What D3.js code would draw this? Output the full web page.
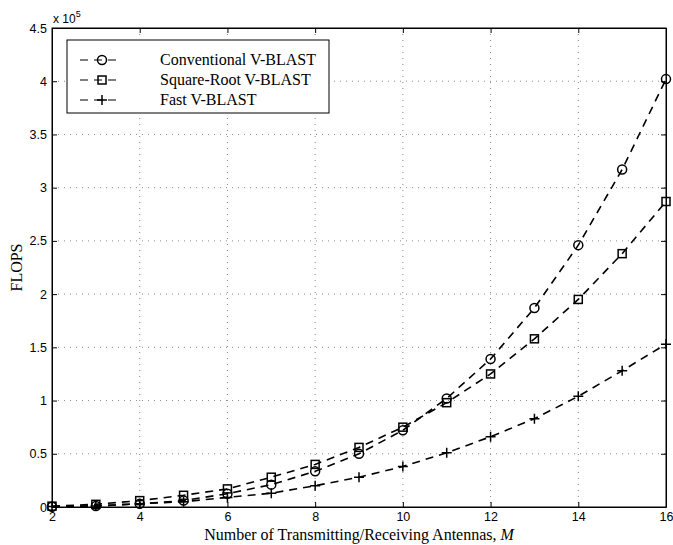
<!DOCTYPE html>
<html>
<head>
<meta charset="utf-8">
<script src="https://cdn.jsdelivr.net/npm/d3@7"></script>
<style>
  body { margin: 0; background: #fff; }
  svg { display: block; }
</style>
</head>
<body>
<div id="chart"></div>
<script>
// donnees (en unites de 1e5 FLOPS)
const antennas = [2, 3, 4, 5, 6, 7, 8, 9, 10, 11, 12, 13, 14, 15, 16];
const conventional = [0.003, 0.01, 0.03, 0.06, 0.125, 0.21, 0.335, 0.5, 0.72, 1.02, 1.39, 1.87, 2.46, 3.17, 4.02];
const squareRoot = [0.008, 0.025, 0.06, 0.11, 0.17, 0.28, 0.40, 0.56, 0.75, 0.98, 1.25, 1.58, 1.95, 2.38, 2.87];
const fast = [0.004, 0.01, 0.03, 0.05, 0.09, 0.13, 0.20, 0.28, 0.38, 0.51, 0.66, 0.83, 1.04, 1.28, 1.53];
const xTicks = [2, 4, 6, 8, 10, 12, 14, 16];
const yTicks = [0, 0.5, 1, 1.5, 2, 2.5, 3, 3.5, 4, 4.5];
const seriesNames = ["Conventional V-BLAST", "Square-Root V-BLAST", "Fast V-BLAST"];

const svgWidth = 673, svgHeight = 545;
const margin = { top: 28, right: 7, bottom: 38, left: 52 };
const width = svgWidth - margin.left - margin.right;
const height = svgHeight - margin.top - margin.bottom;

const svg = d3.select("#chart").append("svg")
    .attr("width", svgWidth)
    .attr("height", svgHeight);

const g = svg.append("g")
    .attr("transform", `translate(${margin.left},${margin.top})`);

const x = d3.scaleLinear().domain([2, 16]).range([0, width]);
const y = d3.scaleLinear().domain([0, 4.5]).range([height, 0]);

// grille pointillee
g.append("g").selectAll("line")
    .data(xTicks.slice(1, -1))
    .enter().append("line")
    .attr("x1", d => x(d)).attr("x2", d => x(d))
    .attr("y1", 0).attr("y2", height)
    .attr("stroke", "#888").attr("stroke-width", 1)
    .attr("stroke-dasharray", "1,5");

g.append("g").selectAll("line")
    .data(yTicks.slice(1, -1))
    .enter().append("line")
    .attr("x1", 0).attr("x2", width)
    .attr("y1", d => y(d)).attr("y2", d => y(d))
    .attr("stroke", "#888").attr("stroke-width", 1)
    .attr("stroke-dasharray", "1,5");

// axes (ticks vers l'interieur, style MATLAB)
const fmtY = d => d === 0 ? "0" : String(d);
g.append("g")
    .attr("transform", `translate(0,${height})`)
    .call(d3.axisBottom(x).tickValues(xTicks).tickSizeInner(-5).tickSizeOuter(0).tickPadding(5));
g.append("g")
    .call(d3.axisLeft(y).tickValues(yTicks).tickFormat(fmtY).tickSizeInner(-5).tickSizeOuter(0).tickPadding(5));
g.append("g")
    .call(d3.axisTop(x).tickValues(xTicks).tickFormat("").tickSizeInner(-5).tickSizeOuter(0));
g.append("g")
    .attr("transform", `translate(${width},0)`)
    .call(d3.axisRight(y).tickValues(yTicks).tickFormat("").tickSizeInner(-5).tickSizeOuter(0));

svg.selectAll(".tick text")
    .attr("font-family", "Liberation Sans, Arial, sans-serif")
    .attr("font-size", 12.5)
    .attr("fill", "#000");
svg.selectAll(".domain").attr("stroke", "#000").attr("stroke-width", 1);
svg.selectAll(".tick line").attr("stroke", "#000");

// cadre
g.append("rect")
    .attr("width", width).attr("height", height)
    .attr("fill", "none").attr("stroke", "#000").attr("stroke-width", 1);

// x 10^5
const expo = g.append("text")
    .attr("x", 1).attr("y", -5)
    .attr("font-family", "Liberation Sans, Arial, sans-serif")
    .attr("font-size", 12);
expo.append("tspan").text("x 10");
expo.append("tspan").attr("font-size", 9).attr("dy", -6).text("5");

// courbes
const line = d3.line()
    .x((d, i) => x(antennas[i]))
    .y(d => y(d));

const allSeries = [conventional, squareRoot, fast];
const markers = ["circle", "square", "plus"];

function drawMarker(sel, type, cx, cy) {
    if (type === "circle") {
        sel.append("circle").attr("cx", cx).attr("cy", cy).attr("r", 4.5)
            .attr("fill", "none").attr("stroke", "#000").attr("stroke-width", 1.5);
    } else if (type === "square") {
        sel.append("rect").attr("x", cx - 4).attr("y", cy - 4).attr("width", 8).attr("height", 8)
            .attr("fill", "none").attr("stroke", "#000").attr("stroke-width", 1.5);
    } else {
        sel.append("path").attr("d", `M${cx - 5},${cy}H${cx + 5}M${cx},${cy - 5}V${cy + 5}`)
            .attr("stroke", "#000").attr("stroke-width", 1.5);
    }
}

allSeries.forEach((vals, k) => {
    g.append("path")
        .datum(vals)
        .attr("fill", "none")
        .attr("stroke", "#000")
        .attr("stroke-width", 1.6)
        .attr("stroke-dasharray", "8,6")
        .attr("d", line);
    const mg = g.append("g");
    vals.forEach((v, i) => drawMarker(mg, markers[k], x(antennas[i]), y(v)));
});

// legende
const legend = g.append("g").attr("transform", "translate(15,12)");
legend.append("rect")
    .attr("width", 262).attr("height", 73)
    .attr("fill", "#fff").attr("stroke", "#000").attr("stroke-width", 1);
seriesNames.forEach((name, k) => {
    const ly = 20 + k * 20;
    legend.append("line")
        .attr("x1", 13).attr("x2", 55).attr("y1", ly).attr("y2", ly)
        .attr("stroke", "#000").attr("stroke-width", 1.2)
        .attr("stroke-dasharray", "8,6");
    drawMarker(legend, markers[k], 35, ly);
    legend.append("text")
        .attr("x", 93).attr("y", ly + 5)
        .attr("font-family", "Liberation Serif, Times New Roman, serif")
        .attr("font-size", 16)
        .text(name);
});

// titres des axes
svg.append("text")
    .attr("x", margin.left + width / 2)
    .attr("y", svgHeight - 5)
    .attr("text-anchor", "middle")
    .attr("font-family", "Liberation Serif, Times New Roman, serif")
    .attr("font-size", 16)
    .html("Number of Transmitting/Receiving Antennas, <tspan font-style='italic'>M</tspan>");

svg.append("text")
    .attr("transform", "rotate(-90)")
    .attr("x", -(margin.top + height / 2))
    .attr("y", 22)
    .attr("text-anchor", "middle")
    .attr("font-family", "Liberation Serif, Times New Roman, serif")
    .attr("font-size", 16)
    .text("FLOPS");
</script>
</body>
</html>
